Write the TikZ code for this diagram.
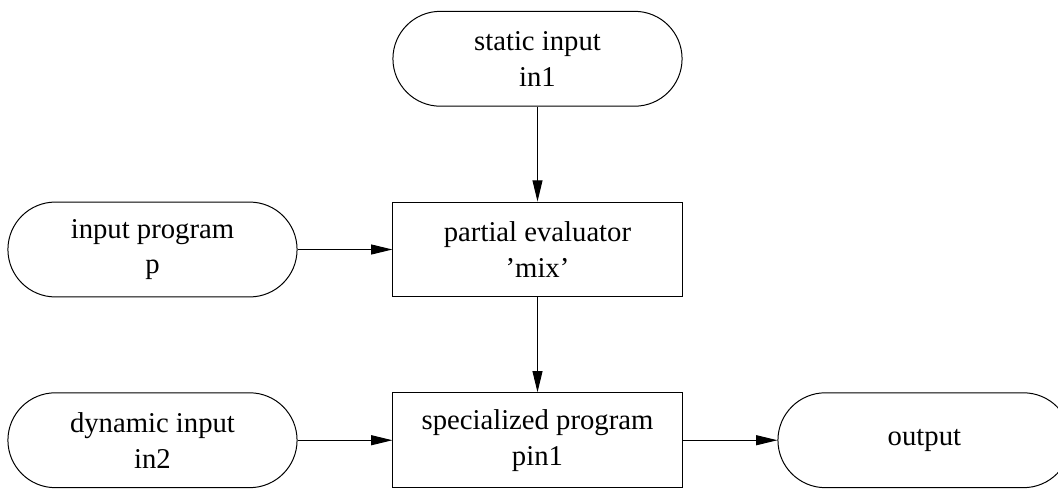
\documentclass[tikz,border=0pt]{standalone}
\usepackage{fontspec}
\setmainfont{Liberation Serif}
\usetikzlibrary{arrows.meta,positioning}
\tikzset{>={Triangle[length=16pt,width=7.5pt]}}
\tikzset{
	term/.style={draw, rounded corners=1.255cm, minimum width=7.65cm, minimum height=2.51cm},
	proc/.style={draw, minimum width=7.65cm, minimum height=2.51cm},
	lbl/.style={font=\fontsize{21.6}{27}\selectfont, align=center}
}

\begin{document}
\begin{tikzpicture}[node distance=2.51cm, line width=0.75pt]
			\useasboundingbox (-14.221,-6.337) rectangle (13.771,6.601);
			\node[proc,lbl] (mix) at (0,0) {partial evaluator\\'mix'};
			\node[term,lbl,above=of mix] (static) {static input\\in1};
			\node[term,lbl,left=of mix] (prog) {input program\\p};
			\node[proc,lbl,below=of mix] (spec) {specialized program\\pin1};
			\node[term,lbl,left=of spec] (dyn) {dynamic input\\in2};
			\node[term,lbl,right=of spec,minimum width=7.75cm] (out) {output};
			\draw[->] (static) -- (mix);
			\draw[->] (prog) -- (mix);
			\draw[->] (mix) -- (spec);
			\draw[->] (dyn) -- (spec);
			\draw[->] (spec) -- (out);
		\end{tikzpicture}
\end{document}
